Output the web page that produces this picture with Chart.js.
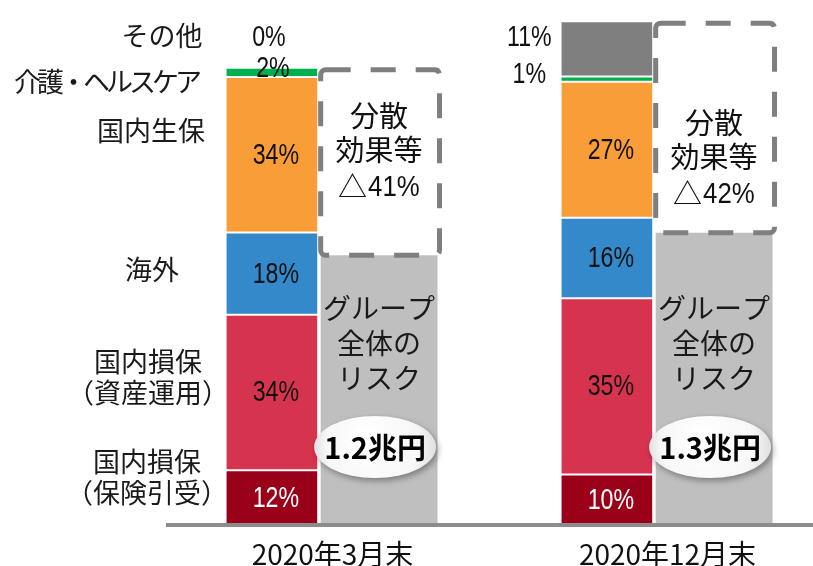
<!DOCTYPE html>
<html>
<head>
<meta charset="utf-8">
<script src="https://cdn.jsdelivr.net/npm/chart.js@4/dist/chart.umd.min.js"></script>
<style>
  html, body { margin: 0; padding: 0; background: #fff; overflow: hidden; }
  #wrap { width: 840px; height: 566px; }
</style>
</head>
<body>
<div id="wrap"><canvas id="riskChart"></canvas></div>
<script>
// risk composition (% of summed segment risk) per period
const periods = ['2020年3月末', '2020年12月末'];
const underwriting = [12, 10];   // 国内損保（保険引受）
const investment = [34, 35];     // 国内損保（資産運用）
const overseas = [18, 16];       // 海外
const lifeInsurance = [34, 27];  // 国内生保
const nursingCare = [2, 1];      // 介護・ヘルスケア
const others = [0, 11];          // その他
const diversification = [41, 42]; // 分散効果等 △%
const groupRisk = [1.2, 1.3];     // グループ全体のリスク（兆円）

// summed segment risk before diversification, in 兆円
const grossRisk = groupRisk.map((r, i) => r / (1 - diversification[i] / 100));
const toAmount = pct => pct.map((p, i) => p / 100 * grossRisk[i]);

const parts = [
  { label: '国内損保（保険引受）', pct: underwriting, color: '#9a0018', text: '#fff' },
  { label: '国内損保（資産運用）', pct: investment, color: '#d6344e', text: '#111' },
  { label: '海外', pct: overseas, color: '#3389c9', text: '#111' },
  { label: '国内生保', pct: lifeInsurance, color: '#f89d38', text: '#111' },
  { label: '介護・ヘルスケア', pct: nursingCare, color: '#00b04f', text: '#111' },
  { label: 'その他', pct: others, color: '#7f7f7f', text: '#111' }
];

const JP = "'Noto Sans CJK JP', sans-serif";
const NUM = "'Liberation Sans', 'Noto Sans CJK JP', sans-serif";

// segment names on the left
const sideLabels = [
  { lines: ['その他'], x: 162, y: 36 },
  { lines: ['介護・ヘルスケア'], x: 106, y: 82, spacing: -4 },
  { lines: ['国内生保'], x: 151, y: 131 },
  { lines: ['海外'], x: 152, y: 270 },
  { lines: ['国内損保', '（資産運用）'], x: 148, y: 362 },
  { lines: ['国内損保', '（保険引受）'], x: 147, y: 462 }
];

const partSets = parts.map(p => ({
  label: p.label,
  data: toAmount(p.pct),
  backgroundColor: p.color,
  borderColor: '#fff',
  borderWidth: { top: 1, bottom: 1, left: 0, right: 0 },
  borderSkipped: false,
  stack: 'parts',
  barPercentage: 0.85,
  categoryPercentage: 0.64
}));

const totalSets = [
  {
    label: 'グループ全体のリスク',
    data: groupRisk,
    backgroundColor: '#bfbfbf',
    borderWidth: 0,
    stack: 'total',
    barPercentage: 1.09,
    categoryPercentage: 0.64
  },
  {
    label: '分散効果等',
    data: grossRisk.map((g, i) => g - groupRisk[i]),
    backgroundColor: 'rgba(0,0,0,0)',
    borderWidth: 0,
    stack: 'total',
    barPercentage: 1.09,
    categoryPercentage: 0.64
  }
];

function drawLines(ctx, lines, x, y, gap) {
  lines.forEach((t, k) => ctx.fillText(t, x, y + k * gap));
}

// numbers are set in a condensed face
function narrowText(ctx, t, x, y, squeeze) {
  ctx.save();
  ctx.translate(x, y);
  ctx.scale(squeeze || 0.8, 1);
  ctx.fillText(t, 0, 0);
  ctx.restore();
}

const annotate = {
  id: 'annotate',
  afterDatasetsDraw(chart) {
    const { ctx, chartArea } = chart;
    const base = chartArea.bottom;
    ctx.save();
    ctx.textAlign = 'center';
    ctx.textBaseline = 'middle';

    // percentage labels on the segments
    ctx.font = '29px ' + NUM;
    parts.forEach((p, d) => {
      chart.getDatasetMeta(d).data.forEach((el, i) => {
        let x = el.x + 4, y = (el.y + el.base) / 2;
        const left = el.x - el.width / 2;
        if (d === 4) {
          x = i === 0 ? el.x + 1 : left - 32;
          y = i === 0 ? el.y : el.y - 3;
        } else if (d === 5) {
          x = i === 0 ? el.x - 3 : left - 32;
          y = i === 0 ? el.y - 31 : el.y + 16;
        }
        ctx.fillStyle = d >= 4 ? '#111' : p.text;
        narrowText(ctx, p.pct[i] + '%', x, y + 1, 0.8);
      });
    });

    // dashed diversification box and its caption
    const divMeta = chart.getDatasetMeta(parts.length + 1);
    const captionY = [150, 157];
    divMeta.data.forEach((el, i) => {
      const x0 = el.x - el.width / 2, x1 = el.x + el.width / 2 + 2;
      const y0 = el.y + 2, y1 = el.base;
      ctx.strokeStyle = '#7f7f7f';
      ctx.lineWidth = 5;
      ctx.setLineDash([25, 20]);
      ctx.beginPath();
      ctx.roundRect(x0, y0, x1 - x0, y1 - y0, 5);
      ctx.stroke();
      ctx.setLineDash([]);

      const cx = (x0 + x1) / 2 - 1;
      ctx.fillStyle = '#111';
      ctx.font = '29px ' + JP;
      ctx.fillText('分散', cx, captionY[i] - 34);
      ctx.fillText('効果等', cx, captionY[i]);
      ctx.textAlign = 'right';
      ctx.fillText('△', cx - 12, captionY[i] + 37);
      ctx.textAlign = 'left';
      ctx.font = '30px ' + NUM;
      ctx.save();
      ctx.translate(cx - 11, captionY[i] + 38);
      ctx.scale(0.86, 1);
      ctx.fillText(diversification[i] + '%', 0, 0);
      ctx.restore();
      ctx.textAlign = 'center';
    });

    // group risk caption and amount bubble
    const totMeta = chart.getDatasetMeta(parts.length);
    totMeta.data.forEach((el, i) => {
      ctx.fillStyle = '#1a1a1a';
      ctx.font = '28px ' + JP;
      drawLines(ctx, ['グループ', '全体の', 'リスク'], el.x, base - 217, 35);

      const ox = el.x - 4, oy = base - 78;
      ctx.save();
      ctx.shadowColor = 'rgba(0,0,0,0.35)';
      ctx.shadowBlur = 6;
      ctx.shadowOffsetX = 2;
      ctx.shadowOffsetY = 3;
      const g = ctx.createRadialGradient(ox - 10, oy - 10, 5, ox, oy, 64);
      g.addColorStop(0, '#ffffff');
      g.addColorStop(0.7, '#f7f7f7');
      g.addColorStop(1, '#dcdcdc');
      ctx.fillStyle = g;
      ctx.beginPath();
      ctx.ellipse(ox, oy, 61, 31, 0, 0, Math.PI * 2);
      ctx.fill();
      ctx.restore();
      ctx.fillStyle = '#000';
      ctx.font = 'bold 29px ' + JP;
      ctx.fillText(groupRisk[i].toFixed(1) + '兆円', ox, oy + 1);
    });

    // segment names
    ctx.fillStyle = '#1a1a1a';
    ctx.font = '27px ' + JP;
    sideLabels.forEach(s => {
      ctx.letterSpacing = (s.spacing || 0) + 'px';
      drawLines(ctx, s.lines, s.x, s.y, 31);
    });
    ctx.letterSpacing = '0px';

    // baseline
    ctx.strokeStyle = '#8c8c8c';
    ctx.lineWidth = 4;
    ctx.beginPath();
    ctx.moveTo(166, base);
    ctx.lineTo(chart.width, base);
    ctx.stroke();
    ctx.restore();
  }
};

new Chart(document.getElementById('riskChart'), {
  type: 'bar',
  data: { labels: periods, datasets: [...partSets, ...totalSets] },
  options: {
    responsive: true,
    maintainAspectRatio: false,
    animation: false,
    layout: { padding: { top: 8, left: 158, right: 12, bottom: 0 } },
    plugins: { legend: { display: false }, tooltip: { enabled: false } },
    scales: {
      x: {
        stacked: true,
        grid: { display: false, drawTicks: false },
        border: { display: false },
        ticks: { color: '#111', font: { family: JP, size: 28 }, padding: 13, labelOffset: 7 },
        afterFit: scale => { scale.height = 41; }
      },
      y: {
        stacked: true,
        display: false,
        min: 0,
        max: 2.3
      }
    }
  },
  plugins: [annotate]
});
</script>
</body>
</html>
